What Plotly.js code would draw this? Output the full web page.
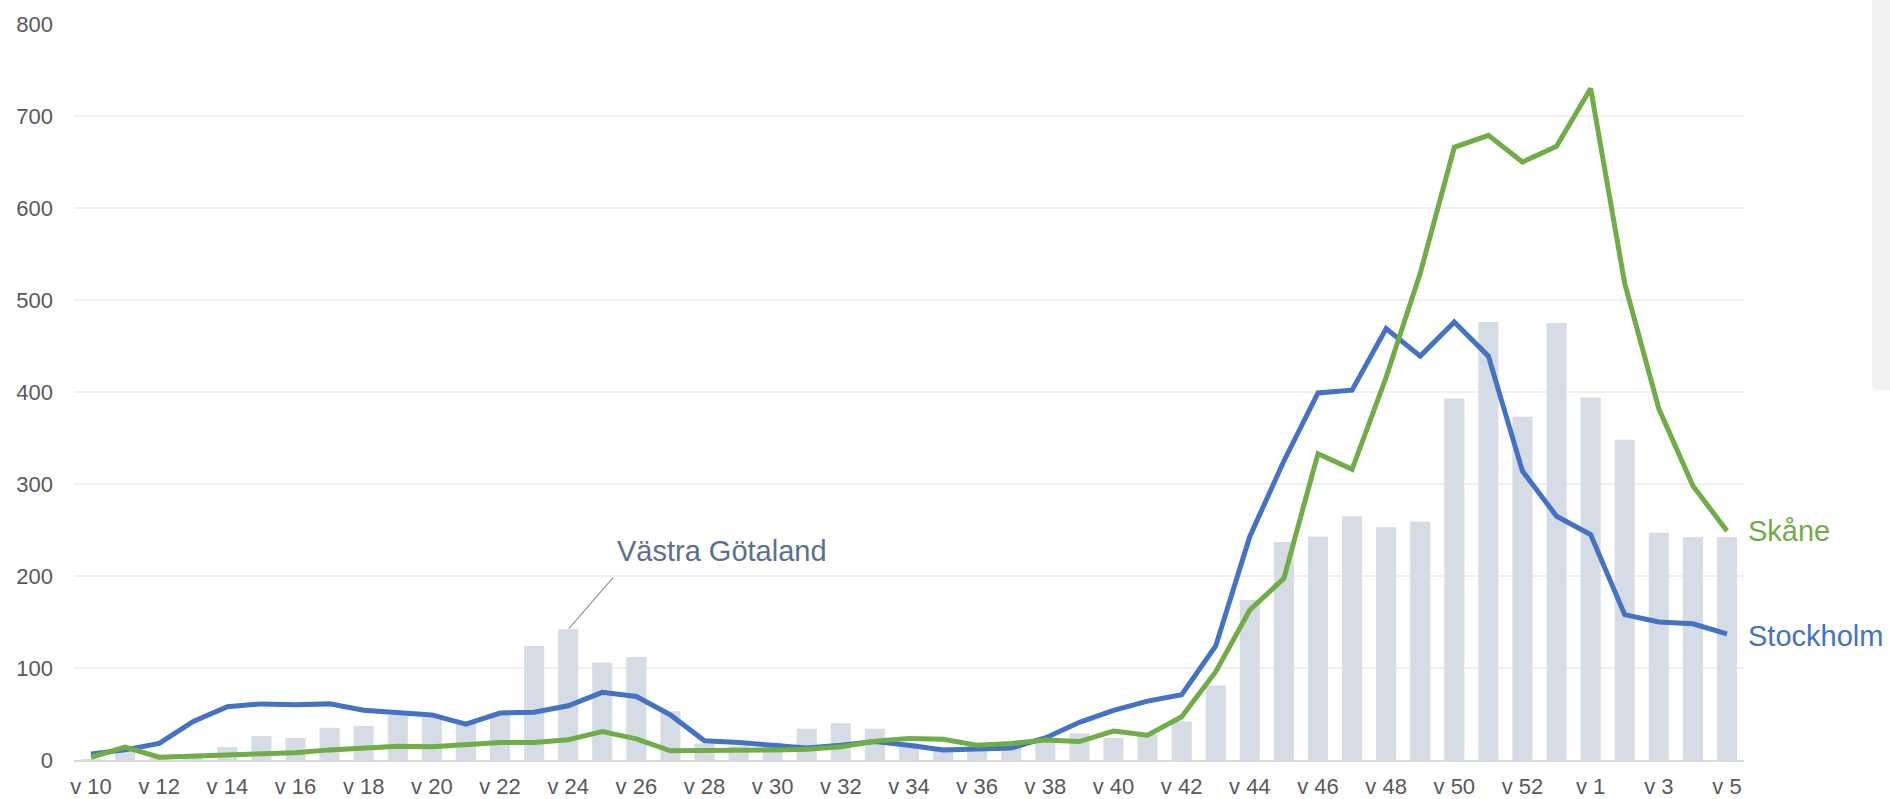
<!DOCTYPE html>
<html>
<head>
<meta charset="utf-8">
<script src="https://cdn.plot.ly/plotly-3.0.1.min.js"></script>
<style>
html,body{margin:0;padding:0;background:#fff;overflow:hidden;}
#chart{width:1890px;height:799px;}
#scroll{position:absolute;left:1872px;top:0;width:18px;height:390px;background:#f1f1f1;border-bottom-left-radius:6px;}
</style>
</head>
<body>
<div id="chart"></div>
<div id="scroll"></div>
<script>
const weeks = ["v 10","v 11","v 12","v 13","v 14","v 15","v 16","v 17","v 18","v 19","v 20","v 21","v 22","v 23","v 24","v 25","v 26","v 27","v 28","v 29","v 30","v 31","v 32","v 33","v 34","v 35","v 36","v 37","v 38","v 39","v 40","v 41","v 42","v 43","v 44","v 45","v 46","v 47","v 48","v 49","v 50","v 51","v 52","v 53","v 1","v 2","v 3","v 4","v 5"];
const vastraGotaland = [1,12,2,3,14,26,24,35,37,49,47,40,49,124,142,106,112,53,18,15,19,34,40,34,18,14,15,17,24,29,24,28,42,81,174,237,243,265,253,259,393,476,373,475,394,348,247,242,242];
const stockholm = [6.5,11,18,42,58,61,60,61,54,52,49,39,51,52,59,73.5,69,49,21,19,16,13,16,20,16,11,12,13,24,41,54,64,71,124,243,325,399,402,469,439,476,439,314,265,245,158,150,148,137];
const skane = [3,14,3,4,5.4,7,8,11,13,15,14.5,17,19,19,22,31,23,10,10,11,11,11.6,14.5,20.4,23.5,22.5,16,18,21.7,20,31.5,27,47,96,163,197.5,333,316,416,529,666,679,650,667,730,518,382,298,249];
const tickLabels = weeks.filter((w,i)=>i%2===0);
const yTicks = [0,100,200,300,400,500,600,700,800];

const FONT = 'Arial, "Liberation Sans", sans-serif';
const last = weeks.length-1;

const traces = [
  {type:'bar', x:weeks, y:vastraGotaland, name:'Västra Götaland', marker:{color:'#d6dce5'}},
  {type:'scatter', mode:'lines', x:weeks, y:stockholm, name:'Stockholm', line:{color:'#4472c4', width:5}},
  {type:'scatter', mode:'lines', x:weeks, y:skane, name:'Skåne', line:{color:'#70ad47', width:5}}
];

const layout = {
  width:1890, height:799,
  margin:{l:74, r:146, t:24, b:39},
  paper_bgcolor:'#fff', plot_bgcolor:'#fff',
  showlegend:false,
  bargap:0.41,
  font:{family:FONT, color:'#595959', size:22},
  xaxis:{type:'category', categoryorder:'array', categoryarray:weeks, range:[-0.5, weeks.length-0.5], autorange:false,
         tickmode:'array', tickvals:tickLabels, ticktext:tickLabels,
         showgrid:false, showline:true, linecolor:'#d9d9d9', linewidth:2,
         ticks:'', ticklabelstandoff:6, tickfont:{size:22, color:'#595959'}, fixedrange:true},
  yaxis:{range:[0,800], autorange:false, tickmode:'array', tickvals:yTicks, showgrid:true, gridcolor:'#efefef', gridwidth:1.7,
         zeroline:false, ticks:'', ticklabelstandoff:20, tickfont:{size:22, color:'#595959'}, fixedrange:true},
  annotations:[
    {x:18.5, y:227, xref:'x', yref:'y', text:'Västra Götaland', showarrow:false,
     font:{family:FONT, size:29, color:'#5b6f91'}, xanchor:'center', yanchor:'middle'},
    {x:weeks[14], y:vastraGotaland[14], xref:'x', yref:'y', text:'', showarrow:true, arrowhead:0,
     arrowwidth:1.2, arrowcolor:'#8497b0', ax:46, ay:-53, standoff:1},
    {x:weeks[last], y:skane[last], xref:'x', yref:'y', text:'Skåne', showarrow:false, xanchor:'left', yanchor:'middle',
     xshift:19, yshift:0, font:{family:FONT, size:29, color:'#70ad47'}},
    {x:weeks[last], y:stockholm[last], xref:'x', yref:'y', text:'Stockholm', showarrow:false, xanchor:'left', yanchor:'middle',
     xshift:19, yshift:-2, font:{family:FONT, size:29, color:'#4472c4'}}
  ]
};

Plotly.newPlot('chart', traces, layout, {displayModeBar:false, staticPlot:true});
</script>
</body>
</html>
